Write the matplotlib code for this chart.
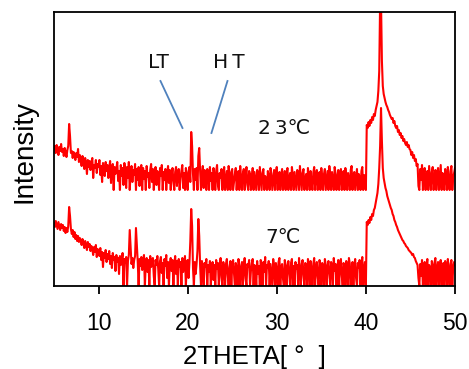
import numpy as np
import matplotlib
matplotlib.use("Agg")
import matplotlib.pyplot as plt

# 2theta grid, 0.1 deg steps from 5 to 50
two_theta = np.round(np.arange(5.0, 50.0001, 0.1), 1)

# 23 C pattern (already offset upwards)
int_23 = [
    136, 140, 133, 141, 138, 131, 139, 135, 142, 134,  # 5
    137, 130, 138, 134, 129, 136, 140, 162, 150, 133,  # 6
    135, 128, 134, 131, 126, 133, 129, 137, 124, 131,  # 7
    127, 120, 130, 124, 117, 128, 122, 112, 126, 119,  # 8
    125, 116, 123, 128, 108, 121, 118, 126, 113, 122,  # 9
    119, 126, 111, 120, 104, 123, 117, 110, 124, 115,  # 10
    121, 108, 118, 125, 103, 116, 122, 96, 119, 112,  # 11
    117, 124, 105, 115, 96, 121, 110, 118, 101, 123,  # 12
    114, 98, 119, 108, 124, 96, 113, 120, 104, 116,  # 13
    111, 122, 96, 117, 106, 119, 100, 114, 121, 96,  # 14
    118, 107, 115, 96, 120, 109, 113, 98, 116, 122,  # 15
    104, 117, 96, 112, 119, 101, 115, 108, 96, 118,  # 16
    110, 121, 96, 114, 106, 117, 96, 112, 120, 103,  # 17
    116, 96, 111, 118, 105, 96, 114, 119, 100, 112,  # 18
    117, 96, 108, 115, 121, 98, 113, 96, 118, 110,  # 19
    96, 114, 119, 104, 154, 140, 112, 96, 117, 106,  # 20
    118, 96, 130, 138, 115, 96, 112, 120, 98, 116,  # 21
    108, 96, 117, 112, 96, 119, 105, 113, 96, 118,  # 22
    110, 96, 115, 121, 100, 96, 113, 108, 117, 96,  # 23
    111, 119, 96, 106, 115, 96, 120, 109, 96, 114,  # 24
    117, 96, 104, 112, 118, 96, 109, 115, 96, 120,  # 25
    106, 96, 113, 117, 96, 110, 119, 101, 96, 115,  # 26
    112, 96, 108, 118, 96, 114, 105, 96, 116, 111,  # 27
    96, 119, 107, 96, 113, 117, 96, 110, 104, 96,  # 28
    115, 109, 96, 118, 112, 96, 106, 116, 96, 113,  # 29
    119, 96, 108, 114, 96, 111, 117, 96, 103, 115,  # 30
    96, 112, 118, 96, 107, 113, 96, 119, 110, 96,  # 31
    114, 105, 96, 116, 111, 96, 120, 108, 96, 113,  # 32
    117, 96, 106, 112, 96, 118, 109, 96, 115, 104,  # 33
    96, 113, 119, 96, 110, 116, 96, 107, 114, 96,  # 34
    118, 108, 96, 112, 117, 96, 105, 115, 96, 120,  # 35
    110, 96, 114, 106, 96, 119, 112, 96, 108, 116,  # 36
    96, 111, 117, 96, 104, 115, 96, 118, 109, 96,  # 37
    113, 107, 96, 116, 120, 96, 110, 114, 96, 106,  # 38
    117, 96, 112, 108, 96, 115, 119, 96, 111, 105,  # 39
    96, 161, 158, 164, 160, 166, 163, 169, 166, 172,  # 40
    170, 176, 180, 184, 195, 215, 285, 285, 225, 200,  # 41
    192, 188, 184, 181, 179, 176, 174, 171, 169, 167,  # 42
    168, 163, 165, 160, 158, 160, 154, 156, 151, 153,  # 43
    148, 150, 145, 147, 143, 141, 144, 139, 141, 137,  # 44
    136, 131, 134, 128, 131, 125, 127, 120, 122, 100,  # 45
    96, 117, 106, 121, 96, 112, 118, 96, 109, 115,  # 46
    96, 120, 108, 96, 114, 119, 96, 105, 116, 96,  # 47
    112, 118, 96, 109, 121, 96, 113, 107, 96, 117,  # 48
    111, 96, 119, 104, 96, 115, 120, 96, 108, 113,  # 49
    118,
]

# 7 C pattern
int_7 = [
    63, 59, 65, 61, 57, 64, 60, 56, 62, 58,  # 5
    61, 55, 59, 53, 58, 54, 60, 79, 70, 57,  # 6
    52, 56, 49, 54, 47, 51, 45, 50, 44, 48,  # 7
    46, 41, 47, 43, 38, 45, 40, 36, 44, 39,  # 8
    42, 35, 40, 37, 31, 39, 34, 41, 29, 37,  # 9
    35, 30, 38, 26, 34, 19, 33, 28, 36, 24,  # 10
    32, 27, 35, 22, 30, 18, 33, 26, 29, 15,  # 11
    31, 24, 28, 12, 30, 21, 26, 33, 0, 27,  # 12
    23, 29, 0, 25, 31, 56, 38, 22, 28, 18,  # 13
    26, 30, 58, 40, 24, 0, 27, 20, 29, 16,  # 14
    25, 31, 0, 22, 28, 14, 26, 0, 30, 19,  # 15
    24, 28, 10, 0, 26, 21, 30, 17, 0, 25,  # 16
    29, 13, 23, 0, 27, 20, 31, 8, 24, 0,  # 17
    22, 28, 15, 26, 0, 21, 30, 12, 25, 0,  # 18
    27, 19, 24, 0, 28, 14, 22, 30, 0, 20,  # 19
    26, 8, 23, 45, 77, 60, 18, 0, 24, 12,  # 20
    22, 35, 67, 50, 20, 0, 25, 16, 0, 23,  # 21
    19, 27, 0, 21, 14, 25, 0, 18, 24, 6,  # 22
    21, 0, 26, 17, 23, 0, 20, 28, 9, 0,  # 23
    24, 18, 0, 22, 27, 11, 0, 19, 25, 0,  # 24
    20, 26, 13, 0, 23, 18, 0, 27, 21, 0,  # 25
    17, 24, 0, 20, 28, 8, 0, 22, 19, 26,  # 26
    0, 15, 23, 27, 0, 21, 18, 0, 25, 12,  # 27
    20, 0, 26, 19, 0, 24, 14, 29, 0, 21,  # 28
    18, 25, 0, 22, 11, 0, 27, 20, 0, 23,  # 29
    16, 0, 24, 28, 0, 19, 22, 7, 0, 26,  # 30
    21, 0, 18, 25, 13, 0, 23, 27, 0, 20,  # 31
    0, 24, 17, 21, 0, 28, 15, 0, 22, 26,  # 32
    10, 0, 23, 19, 0, 27, 21, 0, 25, 16,  # 33
    0, 22, 28, 0, 18, 24, 9, 0, 26, 20,  # 34
    0, 23, 17, 0, 27, 21, 0, 19, 25, 12,  # 35
    0, 24, 20, 0, 28, 15, 22, 0, 18, 26,  # 36
    0, 21, 27, 10, 0, 23, 19, 0, 25, 17,  # 37
    0, 28, 22, 0, 16, 24, 0, 20, 27, 8,  # 38
    0, 23, 18, 26, 0, 21, 29, 0, 17, 24,  # 39
    0, 64, 61, 66, 63, 69, 66, 72, 70, 76,  # 40
    78, 83, 88, 93, 102, 118, 140, 178, 145, 118,  # 41
    108, 103, 98, 95, 90, 87, 84, 81, 78, 76,  # 42
    72, 70, 66, 64, 61, 59, 56, 54, 52, 50,  # 43
    48, 46, 45, 43, 42, 40, 39, 38, 36, 35,  # 44
    34, 33, 31, 32, 29, 28, 25, 23, 21, 8,  # 45
    0, 22, 10, 26, 0, 18, 24, 0, 20, 27,  # 46
    0, 21, 16, 0, 25, 19, 0, 23, 28, 0,  # 47
    17, 24, 0, 21, 26, 0, 19, 23, 0, 25,  # 48
    20, 0, 27, 15, 0, 22, 26, 0, 18, 24,  # 49
    21,
]

floor_23 = 96

fig = plt.figure(figsize=(4.69, 3.69), dpi=100)
ax = fig.add_axes([0.1151, 0.2249, 0.8550, 0.7426])

ax.plot(two_theta, np.maximum(int_23, floor_23), color="#ff0000", lw=1.5)
ax.plot(two_theta, np.maximum(int_7, 0), color="#ff0000", lw=1.5)

ax.set_xlim(5, 50)
ax.set_ylim(0, 274)
ax.set_yticks([])
ax.set_xticks([10, 20, 30, 40, 50])

for s in ax.spines.values():
    s.set_linewidth(1.3)
ax.tick_params(axis="x", direction="out", length=6, width=1.3, pad=13,
               labelsize=16.5)
for lab in ax.get_xticklabels():
    lab.set_family("Liberation Sans")

ax.set_xlabel("2THETA[ °  ]", family="Liberation Sans", fontsize=18.5,
              labelpad=7)
ax.set_ylabel("Intensity", family="Liberation Sans", fontsize=20)
ax.yaxis.set_label_coords(-0.04, 0.49)

# LT / HT callouts
blue = "#4f81bd"
ax.plot([16.95, 19.42], [205, 158], color=blue, lw=1.3)
ax.plot([24.47, 22.67], [205, 153], color=blue, lw=1.3)
lbl = dict(family="DejaVu Sans", fontsize=14.5, ha="center", va="baseline",
           color="#111111")
ax.text(16.73, 218, "LT", **lbl)
ax.text(24.58, 218, "H\u2009T", **lbl)
ax.text(30.85, 152, "2\u20093℃", **lbl)
ax.text(30.7, 43, "7℃", **lbl)

fig.savefig("out.png", dpi=100)
